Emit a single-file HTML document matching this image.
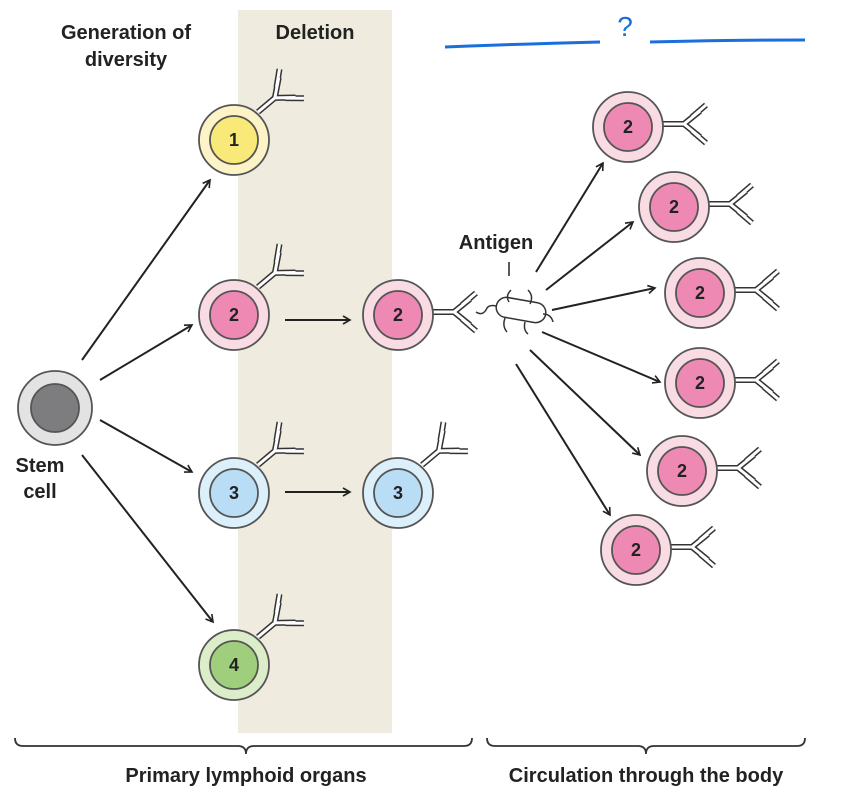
<!DOCTYPE html>
<html><head><meta charset="utf-8"><style>
html,body{margin:0;padding:0;background:#fff;}
svg{display:block;font-family:"Liberation Sans",sans-serif;}
</style></head><body>
<svg width="862" height="801" viewBox="0 0 862 801" xmlns="http://www.w3.org/2000/svg">
<defs>
<marker id="ar" markerWidth="10" markerHeight="10" refX="8" refY="5" orient="auto" markerUnits="userSpaceOnUse">
<path d="M1,1 L8,5 L1,9" fill="none" stroke="#222" stroke-width="1.6"/>
</marker>
<g id="ab">
<path d="M0,0 L22,0 M22,0 L38,-13 M22,0 L38,13 M30,-7 L44,-19 M30,7 L44,19" stroke="#333" stroke-width="6" fill="none"/>
<path d="M0,0 L22,0 M22,0 L38,-13 M22,0 L38,13 M30,-7 L44,-19 M30,7 L44,19" stroke="#fff" stroke-width="3" fill="none"/>
</g>
</defs>
<rect x="238" y="10" width="154" height="723" fill="#f0ebdf"/>

<g font-size="20" font-weight="bold" text-anchor="middle" fill="#222">
<text x="126" y="39">Generation of</text>
<text x="126" y="66">diversity</text>
<text x="315" y="39">Deletion</text>
<text x="496" y="249">Antigen</text>
<text x="40" y="472">Stem</text>
<text x="40" y="498">cell</text>
</g>
<line x1="509" y1="262" x2="509" y2="276" stroke="#222" stroke-width="1.5"/>

<path d="M445,47 Q520,44 600,42" stroke="#1a6fdc" stroke-width="3" fill="none"/>
<path d="M650,42 Q730,40 805,40" stroke="#1a6fdc" stroke-width="3" fill="none"/>
<text x="625" y="36" font-size="28" fill="#1a6fdc" text-anchor="middle">?</text>

<g stroke="#222" stroke-width="2" fill="none" marker-end="url(#ar)">
<line x1="82" y1="360" x2="210" y2="180"/>
<line x1="100" y1="380" x2="192" y2="325"/>
<line x1="100" y1="420" x2="192" y2="472"/>
<line x1="82" y1="455" x2="213" y2="622"/>
<line x1="285" y1="320" x2="350" y2="320"/>
<line x1="285" y1="492" x2="350" y2="492"/>
<line x1="536" y1="272" x2="603" y2="163"/>
<line x1="546" y1="290" x2="633" y2="222"/>
<line x1="552" y1="310" x2="655" y2="288"/>
<line x1="542" y1="332" x2="660" y2="382"/>
<line x1="530" y1="350" x2="640" y2="455"/>
<line x1="516" y1="364" x2="610" y2="515"/>
</g>

<use href="#ab" transform="translate(258,112) rotate(-40)"/>
<use href="#ab" transform="translate(258,287) rotate(-40)"/>
<use href="#ab" transform="translate(258,465) rotate(-40)"/>
<use href="#ab" transform="translate(258,637) rotate(-40)"/>
<use href="#ab" transform="translate(432,312) rotate(0)"/>
<use href="#ab" transform="translate(422,465) rotate(-40)"/>
<use href="#ab" transform="translate(662,124)"/>
<use href="#ab" transform="translate(708,204)"/>
<use href="#ab" transform="translate(734,290)"/>
<use href="#ab" transform="translate(734,380)"/>
<use href="#ab" transform="translate(716,468)"/>
<use href="#ab" transform="translate(670,547)"/>

<g stroke="#333" stroke-width="1.5" fill="none">
<rect x="496" y="300" width="50" height="20" rx="10" fill="#fff" transform="rotate(10 521 310)"/>
<path d="M509,302 q-4,-6 2,-12 M530,304 q4,-8 -2,-14 M505,318 q-3,8 2,14 M525,322 q-2,8 3,12 M543,314 q8,0 10,8 M496,306 q-8,-2 -10,4 q-4,6 -10,2"/>
</g>

<g stroke="#555" stroke-width="1.8">
<circle cx="55" cy="408" r="37" fill="#e3e3e3"/><circle cx="55" cy="408" r="24" fill="#7d7d7f"/>
<circle cx="234" cy="140" r="35" fill="#fcf4c6"/><circle cx="234" cy="140" r="24" fill="#f8e979"/>
<circle cx="234" cy="315" r="35" fill="#f9dbe4"/><circle cx="234" cy="315" r="24" fill="#ee89b4"/>
<circle cx="234" cy="493" r="35" fill="#dcf0fb"/><circle cx="234" cy="493" r="24" fill="#b9ddf4"/>
<circle cx="234" cy="665" r="35" fill="#dcedc9"/><circle cx="234" cy="665" r="24" fill="#9fcf7d"/>
<circle cx="398" cy="315" r="35" fill="#f9dbe4"/><circle cx="398" cy="315" r="24" fill="#ee89b4"/>
<circle cx="398" cy="493" r="35" fill="#dcf0fb"/><circle cx="398" cy="493" r="24" fill="#b9ddf4"/>
<circle cx="628" cy="127" r="35" fill="#f9dbe4"/><circle cx="628" cy="127" r="24" fill="#ee89b4"/>
<circle cx="674" cy="207" r="35" fill="#f9dbe4"/><circle cx="674" cy="207" r="24" fill="#ee89b4"/>
<circle cx="700" cy="293" r="35" fill="#f9dbe4"/><circle cx="700" cy="293" r="24" fill="#ee89b4"/>
<circle cx="700" cy="383" r="35" fill="#f9dbe4"/><circle cx="700" cy="383" r="24" fill="#ee89b4"/>
<circle cx="682" cy="471" r="35" fill="#f9dbe4"/><circle cx="682" cy="471" r="24" fill="#ee89b4"/>
<circle cx="636" cy="550" r="35" fill="#f9dbe4"/><circle cx="636" cy="550" r="24" fill="#ee89b4"/>
</g>
<g font-size="18" font-weight="bold" text-anchor="middle" fill="#222">
<text x="234" y="146">1</text><text x="234" y="321">2</text><text x="234" y="499">3</text><text x="234" y="671">4</text>
<text x="398" y="321">2</text><text x="398" y="499">3</text>
<text x="628" y="133">2</text><text x="674" y="213">2</text><text x="700" y="299">2</text>
<text x="700" y="389">2</text><text x="682" y="477">2</text><text x="636" y="556">2</text>
</g>

<g stroke="#333" stroke-width="1.8" fill="none">
<path d="M15,738 q0,8 8,8 L238,746 q8,0 8,8 q0,-8 8,-8 L464,746 q8,0 8,-8"/>
<path d="M487,738 q0,8 8,8 L638,746 q8,0 8,8 q0,-8 8,-8 L797,746 q8,0 8,-8"/>
</g>
<text x="246" y="782" font-size="20" font-weight="bold" text-anchor="middle" fill="#222">Primary lymphoid organs</text>
<text x="646" y="782" font-size="20" font-weight="bold" text-anchor="middle" fill="#222">Circulation through the body</text>
</svg>
</body></html>
